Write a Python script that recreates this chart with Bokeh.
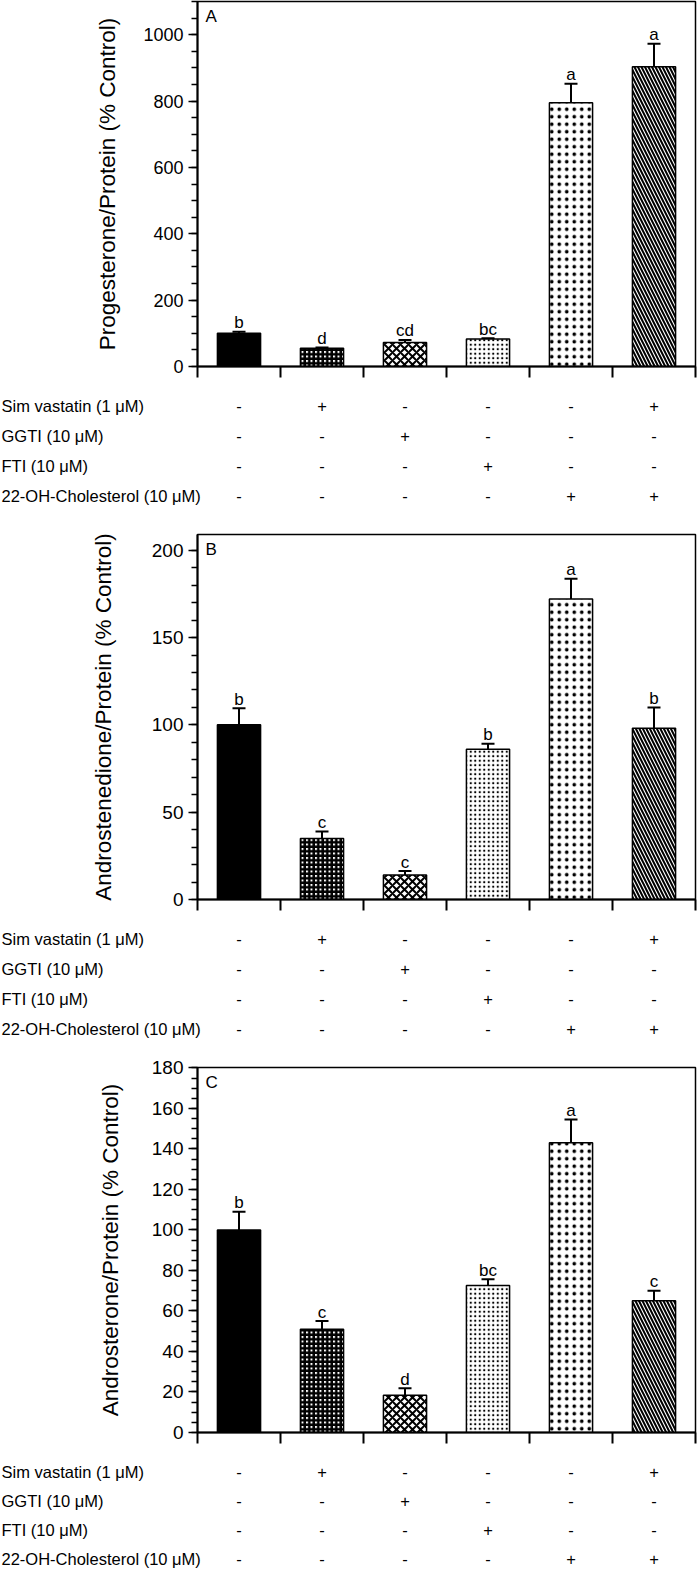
from bokeh.plotting import figure
from bokeh.models import (Range1d, FixedTicker, SingleIntervalTicker, Whisker,
                          TeeHead, ColumnDataSource)
from bokeh.layouts import column, row
from bokeh.embed import file_html
from bokeh.resources import INLINE
from bokeh.core.properties import value

# ---------------- data ----------------
treatments = ["Control", "Simvastatin", "GGTI", "FTI",
              "22-OH-Cholesterol", "Simvastatin + 22-OH-Cholesterol"]

row_labels = ["Sim vastatin (1 \u03bcM)", "GGTI (10 \u03bcM)",
              "FTI (10 \u03bcM)", "22-OH-Cholesterol (10 \u03bcM)"]
sim_row = ["-", "+", "-", "-", "-", "+"]
ggti_row = ["-", "-", "+", "-", "-", "-"]
fti_row = ["-", "-", "-", "+", "-", "-"]
oh_row = ["-", "-", "-", "-", "+", "+"]

prog_mean = [100, 55, 72, 83, 795, 903]
prog_err = [5, 2, 8, 2, 57, 70]
prog_letters = ["b", "d", "cd", "bc", "a", "a"]

andro_mean = [100, 35, 14, 86, 172, 98]
andro_err = [9.5, 4, 2.3, 3.2, 11.7, 12]
andro_letters = ["b", "c", "c", "b", "a", "b"]

ost_mean = [100, 51, 18.4, 72.6, 143, 65]
ost_err = [9, 4, 3.5, 3, 11.5, 5]
ost_letters = ["b", "c", "d", "bc", "a", "c"]

# ---------------- styles ----------------
bar_fill = ["black", "white", "white", "white", "white", "white"]
bar_hatch = [" ", "+", "x", ".", ".", "\\"]
bar_hscale = [1, 4.5, 8, 4.5, 7.5, 7]
bar_hweight = [1, 2.5, 2, 1.5, 1.2, 2]

FONT = "Liberation Sans"
W = 697
FRAME_L = 197
FRAME_R = 2
LAB_W = 226
H_FRAME = 365
BOT_PAD = 30
ROW_FIRST = 9


def make_plot(mean, err, letters, ymax, major, nminor, ylabel, panel,
              tick_font, title_standoff, top_pad):
    n = len(treatments)
    xs = list(range(n))
    src = ColumnDataSource(dict(
        x=xs, top=mean,
        upper=[m + e for m, e in zip(mean, err)],
        lower=[m - e for m, e in zip(mean, err)],
        letter=letters, fill=bar_fill, hatch=bar_hatch,
        hscale=bar_hscale, hweight=bar_hweight, name=treatments))
    p = figure(width=W, height=top_pad + H_FRAME + BOT_PAD,
               x_range=Range1d(-0.5, n - 0.5), y_range=Range1d(0, ymax),
               output_backend="svg", toolbar_location=None,
               min_border_left=FRAME_L, min_border_right=FRAME_R,
               min_border_top=top_pad, min_border_bottom=BOT_PAD)
    p.grid.visible = False
    p.outline_line_color = "black"
    p.outline_line_width = 1.5
    p.background_fill_color = "white"
    p.border_fill_color = "white"

    p.vbar(x="x", top="top", width=0.52, source=src,
           fill_color="fill", line_color="black", line_width=1.5,
           hatch_pattern="hatch", hatch_scale="hscale",
           hatch_weight="hweight", hatch_color="black")

    w = Whisker(source=src, base="x", upper="upper", lower="lower",
                line_color="black", line_width=2,
                upper_head=TeeHead(size=13, line_width=2, line_color="black"),
                lower_head=TeeHead(size=13, line_width=2, line_color="black"))
    p.add_layout(w)

    p.text(x="x", y="upper", text="letter", source=src,
           text_align="center", text_baseline="alphabetic", y_offset=-9,
           text_font=value(FONT), text_font_size="17px", text_color="black")

    p.text(x=[-0.5], y=[ymax], text=[panel], x_offset=8, y_offset=5,
           text_align="left", text_baseline="top",
           text_font=value(FONT), text_font_size="17px", text_color="black")

    ticks = [i - 0.5 for i in range(n + 1)]
    xa = p.xaxis[0]
    xa.ticker = FixedTicker(ticks=ticks, minor_ticks=[])
    xa.major_label_overrides = {t: "" for t in ticks}
    xa.major_tick_in = 0
    xa.major_tick_out = 11
    xa.major_label_standoff = 0
    xa.major_label_text_font_size = "10px"
    xa.axis_line_width = 2
    xa.major_tick_line_width = 2
    xa.axis_line_color = "black"
    xa.major_tick_line_color = "black"

    ya = p.yaxis[0]
    ya.ticker = SingleIntervalTicker(interval=major, num_minor_ticks=nminor)
    ya.major_tick_in = 0
    ya.major_tick_out = 9
    ya.minor_tick_in = 0
    ya.minor_tick_out = 6
    ya.axis_line_width = 2
    ya.major_tick_line_width = 1.5
    ya.minor_tick_line_width = 1.5
    ya.axis_line_color = "black"
    ya.major_tick_line_color = "black"
    ya.minor_tick_line_color = "black"
    ya.major_label_text_font = FONT
    ya.major_label_text_font_size = tick_font
    ya.major_label_text_color = "black"
    ya.major_label_standoff = 5
    ya.axis_label = ylabel
    ya.axis_label_text_font = FONT
    ya.axis_label_text_font_size = "22.5px"
    ya.axis_label_text_font_style = "normal"
    ya.axis_label_text_color = "black"
    ya.axis_label_standoff = title_standoff
    return p


def make_table(height, pitch=30):
    n = len(treatments)
    ty_top = -ROW_FIRST / pitch
    ty_bot = (height - ROW_FIRST) / pitch
    nrows = len(row_labels)

    # row names, left part
    lab = figure(width=LAB_W, height=height,
                 x_range=Range1d(0, 1), y_range=Range1d(ty_bot, ty_top),
                 output_backend="svg", toolbar_location=None,
                 x_axis_location=None, y_axis_location=None,
                 min_border_left=0, min_border_right=0,
                 min_border_top=0, min_border_bottom=0)
    lab.grid.visible = False
    lab.outline_line_color = None
    lab.text(x=[0] * nrows, y=list(range(nrows)), text=row_labels,
             x_offset=1, text_align="left", text_baseline="middle",
             text_font=value(FONT), text_font_size="16.5px",
             text_color="black")

    # +/- marks, aligned with the bars above
    px_per_unit = (W - FRAME_L - FRAME_R) / n
    t = figure(width=W - LAB_W, height=height,
               x_range=Range1d(-0.5 + (LAB_W - FRAME_L) / px_per_unit, n - 0.5),
               y_range=Range1d(ty_bot, ty_top),
               output_backend="svg", toolbar_location=None,
               x_axis_location=None, y_axis_location=None,
               min_border_left=0, min_border_right=FRAME_R,
               min_border_top=0, min_border_bottom=0)
    t.grid.visible = False
    t.outline_line_color = None
    rows = [sim_row, ggti_row, fti_row, oh_row]
    xs, ys, txt = [], [], []
    for r, rr in enumerate(rows):
        for i, s in enumerate(rr):
            xs.append(i)
            ys.append(r)
            txt.append(s)
    t.text(x=xs, y=ys, text=txt, text_align="center", text_baseline="middle",
           text_font=value(FONT), text_font_size="16.5px", text_color="black")
    return row(lab, t, spacing=0)


pA = make_plot(prog_mean, prog_err, prog_letters, 1100, 200, 4,
               "Progesterone/Protein (% Control)", "A", "18px", 20, 1)
tA = make_table(533 - (1 + H_FRAME + BOT_PAD))
pB = make_plot(andro_mean, andro_err, andro_letters, 209, 50, 5,
               "Androstenedione/Protein (% Control)", "B", "19px", 33, 1)
C_TOP = 10
tB = make_table(533 - (1 + H_FRAME + BOT_PAD) - (C_TOP - 1))
pC = make_plot(ost_mean, ost_err, ost_letters, 180.2, 20, 4,
               "Androsterone/Protein (% Control)", "C", "19px", 26, C_TOP)
tC = make_table(1568 - 1056 - (C_TOP + H_FRAME + BOT_PAD), pitch=29)

layout = column(pA, tA, pB, tB, pC, tC, spacing=0)
open("out.html", "w").write(file_html(layout, INLINE))
